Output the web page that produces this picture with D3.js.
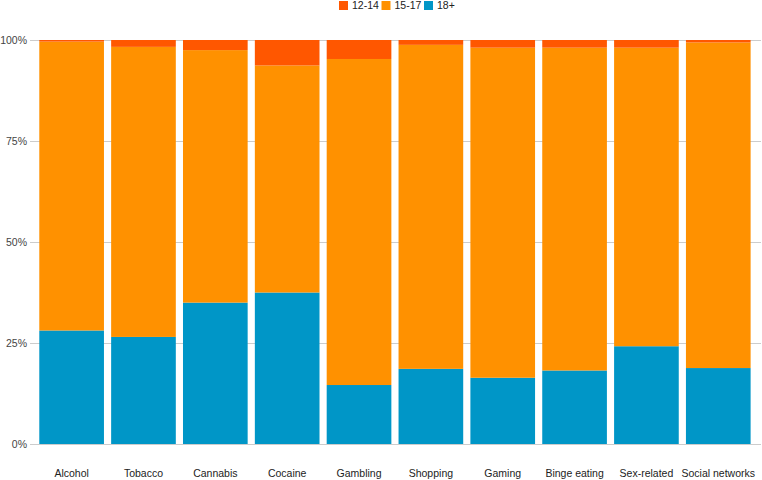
<!DOCTYPE html>
<html>
<head>
<meta charset="utf-8">
<script src="https://cdn.jsdelivr.net/npm/d3@7"></script>
<style>
  body { margin: 0; background: #fff; }
  svg { display: block; font-family: "Liberation Sans", Arial, sans-serif; }
</style>
</head>
<body>
<svg id="chart" width="762" height="480"></svg>
<script>
  // Data (percent of each row).
  var categories = ["Alcohol", "Tobacco", "Cannabis", "Cocaine", "Gambling",
    "Shopping", "Gaming", "Binge eating", "Sex-related", "Social networks"];
  var age12to14 = [0.4, 1.7, 2.5, 6.3, 4.7, 1.2, 1.9, 1.9, 1.9, 0.6];
  var age18plus = [28.1, 26.5, 35.0, 37.5, 14.6, 18.6, 16.4, 18.2, 24.2, 18.8];
  var age15to17 = categories.map(function(c, i) {
    return 100 - age12to14[i] - age18plus[i];
  });
  var seriesNames = ["12-14", "15-17", "18+"];
  var seriesColors = ["#ff5700", "#ff9100", "#0096c7"];
  var yTicks = [0, 25, 50, 75, 100];

  var svg = d3.select("#chart");
  var m = { left: 30, right: 1, top: 40, bottom: 36 };
  var W = 762, H = 480;

  var rows = categories.map(function(c, i) {
    return { cat: c, "18+": age18plus[i], "15-17": age15to17[i], "12-14": age12to14[i] };
  });

  // stack from bottom: 18+, then 15-17, then 12-14 on top
  var stack = d3.stack().keys(["18+", "15-17", "12-14"]);
  var layers = stack(rows);

  var x = d3.scaleBand()
    .domain(categories)
    .range([35.7, 754.2])
    .paddingInner(0.1)
    .paddingOuter(0.05);

  var y = d3.scaleLinear().domain([0, 100]).range([H - m.bottom, m.top]);

  var color = d3.scaleOrdinal().domain(seriesNames).range(seriesColors);

  // gridlines + y labels
  var grid = svg.append("g");
  grid.selectAll("line").data(yTicks).enter().append("line")
    .attr("x1", m.left).attr("x2", W - m.right)
    .attr("y1", function(d) { return Math.round(y(d)) + 0.5; })
    .attr("y2", function(d) { return Math.round(y(d)) + 0.5; })
    .attr("stroke", "#cccccc");
  grid.selectAll("text").data(yTicks).enter().append("text")
    .attr("x", 27)
    .attr("y", function(d) { return y(d); })
    .attr("dy", "0.35em")
    .attr("text-anchor", "end")
    .attr("font-size", 10.5)
    .attr("fill", "#444")
    .text(function(d) { return d + "%"; });

  // bars
  svg.append("g").selectAll("g").data(layers).enter().append("g")
    .attr("fill", function(d) { return color(d.key); })
    .selectAll("rect").data(function(d) { return d; }).enter().append("rect")
    .attr("x", function(d) { return x(d.data.cat); })
    .attr("width", x.bandwidth())
    .attr("y", function(d) { return y(d[1]); })
    .attr("height", function(d) { return y(d[0]) - y(d[1]); });

  // x labels
  svg.append("g").selectAll("text").data(categories).enter().append("text")
    .attr("x", function(d) { return x(d) + x.bandwidth() / 2; })
    .attr("y", 473)
    .attr("dy", "0.35em")
    .attr("text-anchor", "middle")
    .attr("font-size", 10.5)
    .attr("fill", "#222")
    .text(function(d) { return d; });

  // legend
  var legendX = [339, 381.5, 424];
  var lg = svg.append("g").selectAll("g").data(seriesNames).enter().append("g")
    .attr("transform", function(d, i) { return "translate(" + legendX[i] + ",1)"; });
  lg.append("rect").attr("width", 9).attr("height", 9)
    .attr("fill", function(d) { return color(d); });
  lg.append("text").attr("x", 13).attr("y", 4.5).attr("dy", "0.35em")
    .attr("font-size", 10.5).attr("fill", "#222")
    .text(function(d) { return d; });
</script>
</body>
</html>
